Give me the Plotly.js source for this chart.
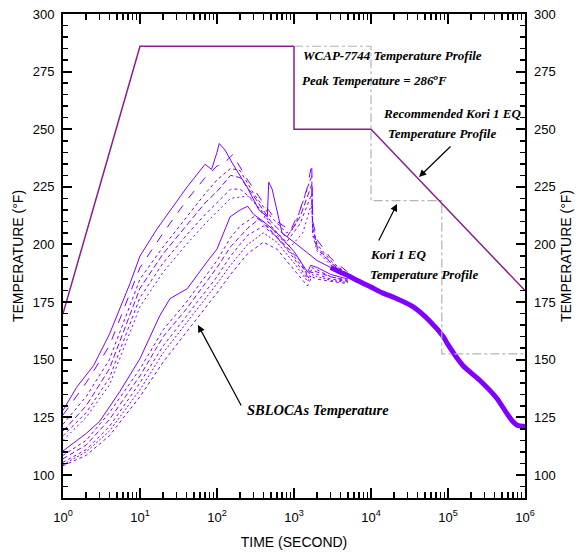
<!DOCTYPE html>
<html><head><meta charset="utf-8">
<script src="https://cdn.plot.ly/plotly-3.0.1.min.js"></script>
<style>html,body{margin:0;padding:0;background:#fff}</style>
</head><body><div id="chart" style="width:579px;height:560px"></div>
<script>
// ---- profile data ----
const wcapT = [1, 10, 1000];
const wcapY = [170, 286, 286];
const recT = [1000, 1000, 10000, 1000000];
const recY = [286, 250, 250, 180];
const koriT = [1000, 10000, 10000, 83000, 83000, 1000000];
const koriY = [286, 286, 219, 219, 152.5, 152.5];

// ---- SBLOCA curves (time s, temperature F) ----
const u1t = [1, 1.5, 2.5, 4, 7.4, 10, 16.6, 25, 41, 70, 85, 100, 107, 127, 160, 245, 350, 450, 470, 520, 600, 700, 1000, 1400, 1700, 2000, 3000, 5000];
const u1y = [128, 138, 147.5, 161, 183, 195, 206.7, 215, 225, 234.8, 232.6, 240, 243.8, 241, 235, 225, 215, 212, 227, 224, 215, 205, 201, 197, 195, 193, 190, 187];
const u2t = [1, 2, 4, 10, 20, 40, 70, 100, 130, 160, 250, 400, 600, 900, 1200, 1500, 1700, 1750, 2000, 3000, 5000];
const u2y = [126, 140, 156, 190, 205, 219, 229, 234, 236, 239, 228, 218, 210, 206, 215, 225, 235, 210, 202, 194, 188];
const u3t = [1, 2, 4, 10, 20, 40, 70, 100, 150, 200, 300, 500, 800, 1000, 1300, 1700, 1750, 2000, 3000, 5000];
const u3y = [122, 134, 150, 185, 199, 212, 222, 228, 233, 232, 222, 212, 205, 207, 218, 230, 208, 200, 193, 187];
const u4t = [1, 2, 4, 10, 20, 40, 70, 100, 150, 200, 300, 500, 800, 1200, 1700, 1750, 2000, 3000, 5000];
const u4y = [119, 130, 146, 181, 196, 208, 218, 223, 230, 229, 221, 210, 203, 212, 226, 207, 199, 192, 186.5];
const u5t = [1, 2, 4, 10, 20, 40, 70, 100, 150, 200, 300, 500, 800, 1200, 1700, 1750, 2000, 3000, 5000];
const u5y = [117, 127, 142, 177, 192, 204, 213, 218, 224, 224, 219, 208, 201, 209, 222, 205, 198, 192, 187];
const u6t = [1, 2, 4, 10, 20, 40, 70, 100, 150, 250, 400, 600, 900, 1300, 1700, 1750, 2000, 3000, 5000];
const u6y = [115, 125, 139, 173, 188, 200, 209, 214, 220, 221, 214, 204, 199, 205, 218, 204, 197, 191, 186.5];
const l1t = [1, 2, 3, 5.5, 10, 18, 24.5, 41, 74, 100, 148, 200, 250, 300, 400, 600, 1000, 1500, 1650, 2000, 3000, 5000];
const l1y = [110.4, 118, 123.3, 136.3, 150.5, 169, 176.5, 180.8, 192.4, 198, 212, 215, 216.6, 213, 210, 205, 197, 188, 191, 190, 187, 185];
const l2t = [1, 2, 4, 10, 20, 40, 70, 100, 150, 200, 300, 400, 600, 1000, 1500, 1700, 2000, 3000, 5000];
const l2y = [108.5, 115, 127, 146, 163, 175, 186, 193, 203, 208, 212, 210, 203, 195, 187, 190, 189, 186, 184.5];
const l3t = [1, 2, 4, 10, 20, 40, 70, 100, 150, 250, 350, 500, 800, 1200, 1500, 1700, 2000, 3000, 5000];
const l3y = [107, 113, 124, 143, 160, 172, 183, 190, 199, 207, 211, 206, 199, 193, 186, 189, 188, 186, 184];
const l4t = [1, 2, 4, 10, 20, 40, 70, 100, 150, 250, 400, 600, 1000, 1500, 1700, 2000, 3000, 5000];
const l4y = [105.5, 111, 121, 140, 156, 169, 179, 186, 195, 204, 208, 203, 194, 185, 188, 187, 185, 184];
const l5t = [1, 2, 4, 10, 20, 40, 70, 100, 150, 250, 400, 600, 1000, 1500, 1700, 2000, 3000, 5000];
const l5y = [104.5, 110, 119, 137, 153, 166, 176, 183, 191, 200, 205, 201, 192, 184, 187, 186, 184.5, 183.5];
const l6t = [1, 2, 4, 10, 20, 40, 70, 100, 150, 250, 400, 600, 1000, 1500, 1700, 2000, 3000, 5000];
const l6y = [104, 108.5, 117, 134, 149, 162, 172, 179, 187, 196, 201, 198, 189, 182, 186, 185, 184, 183];
// merged late-time band
const tailT = [3000, 4000, 5000, 7000, 10000, 14000, 20000, 35000, 59000, 87000, 100000, 156000, 260000, 430000, 600000, 690000, 800000, 1000000];
const tailY = [190, 188, 186.5, 184, 181.5, 179, 177, 173, 166.5, 160, 156.5, 147.5, 141, 133.3, 126, 123.3, 121.5, 121];

// ---- ticks ----
const xTickVals = [1, 10, 100, 1000, 10000, 100000, 1000000];
const xTickText = ['10<sup>0</sup>', '10<sup>1</sup>', '10<sup>2</sup>', '10<sup>3</sup>', '10<sup>4</sup>', '10<sup>5</sup>', '10<sup>6</sup>'];
const yTickVals = [100, 125, 150, 175, 200, 225, 250, 275, 300];

const xMinor = [];
for (let d = 0; d < 6; d++) for (let k = 2; k <= 9; k++) xMinor.push(k * Math.pow(10, d));
const yMinor = [];
for (let v = 90; v <= 300; v += 5) if (v % 25 !== 0) yMinor.push(v);

const SB = '#8000ff';
const PR = '#8a1e8a';
const curves = [
  [u1t, u1y, 'solid'], [u2t, u2y, 'dash'], [u3t, u3y, 'dot'], [u4t, u4y, '6px,3px'],
  [u5t, u5y, 'dot'], [u6t, u6y, '2px,3px'],
  [l1t, l1y, 'solid'], [l2t, l2y, 'dot'], [l3t, l3y, '5px,3px'], [l4t, l4y, 'dot'],
  [l5t, l5y, '2px,2px'], [l6t, l6y, 'dot']
];

const traces = [];
curves.forEach(c => traces.push({x: c[0], y: c[1], mode: 'lines', line: {color: SB, width: 1, dash: c[2]}, hoverinfo: 'skip'}));
traces.push({x: tailT, y: tailY, mode: 'lines', line: {color: SB, width: 5, shape: 'spline', smoothing: 0.6}, hoverinfo: 'skip'});
traces.push({x: koriT, y: koriY, mode: 'lines', line: {color: '#b4b4b4', width: 1.2, dash: 'dashdot'}, hoverinfo: 'skip'});
traces.push({x: wcapT, y: wcapY, mode: 'lines', line: {color: PR, width: 1.5}, hoverinfo: 'skip'});
traces.push({x: recT, y: recY, mode: 'lines', line: {color: PR, width: 1.5}, hoverinfo: 'skip'});
// invisible anchors so the helper axes are drawn
const ghost = {x: [1, 1000000], y: [95, 95], mode: 'lines', line: {width: 0}, opacity: 0, hoverinfo: 'skip'};
traces.push(Object.assign({}, ghost, {xaxis: 'x', yaxis: 'y2'}));
traces.push(Object.assign({}, ghost, {xaxis: 'x3', yaxis: 'y'}));
traces.push(Object.assign({}, ghost, {xaxis: 'x4', yaxis: 'y'}));
traces.push(Object.assign({}, ghost, {xaxis: 'x', yaxis: 'y3'}));
traces.push(Object.assign({}, ghost, {xaxis: 'x', yaxis: 'y4'}));

const L = 63, R = 525, T = 14, B = 498;
const px = x => (x - L) / (R - L);
const py = y => (B - y) / (B - T);
const tf = {family: 'Liberation Serif, Times New Roman, serif', size: 13, color: '#000'};
function lab(text, x, y, size) {
  return {text: '<b><i>' + text + '</i></b>', xref: 'paper', yref: 'paper', x: px(x), y: py(y), xanchor: 'left', yanchor: 'middle', showarrow: false, font: Object.assign({}, tf, size ? {size: size} : {})};
}
function arr(tx, ty, sx, sy) {
  return {text: '', xref: 'paper', yref: 'paper', x: px(tx), y: py(ty), ax: sx - tx, ay: sy - ty, showarrow: true, arrowhead: 2, arrowsize: 1.2, arrowwidth: 1.2, arrowcolor: '#000', standoff: 0};
}

const axFont = {family: 'Liberation Sans, Arial, sans-serif', size: 13, color: '#000'};
const titleFont = {family: 'Liberation Sans, Arial, sans-serif', size: 14, color: '#000'};
const minorX = side => ({overlaying: 'x', anchor: 'y', side: side, type: 'log', range: [0, 6], tickmode: 'array', tickvals: xMinor,
  ticks: 'inside', ticklen: 6, tickwidth: 1.5, tickcolor: '#000', showticklabels: false, showline: false, showgrid: false, zeroline: false});
const minorY = side => ({overlaying: 'y', anchor: 'x', side: side, range: [90, 300], tickmode: 'array', tickvals: yMinor,
  ticks: 'inside', ticklen: 5, tickwidth: 1.5, tickcolor: '#000', showticklabels: false, showline: false, showgrid: false, zeroline: false});

const layout = {
  width: 579, height: 560,
  margin: {l: L, r: 579 - R, t: T, b: 560 - B},
  paper_bgcolor: '#fff', plot_bgcolor: '#fff',
  showlegend: false,
  xaxis: {
    type: 'log', range: [0, 6], tickmode: 'array', tickvals: xTickVals, ticktext: xTickText,
    ticks: 'inside', ticklen: 10, tickwidth: 2, tickcolor: '#000',
    showline: true, linewidth: 2, linecolor: '#000', mirror: 'ticks', showgrid: false, zeroline: false,
    tickfont: axFont, ticklabelstandoff: 6,
    title: {text: 'TIME (SECOND)', font: titleFont, standoff: 14}
  },
  xaxis3: minorX('bottom'),
  xaxis4: minorX('top'),
  yaxis: {
    range: [90, 300], tickmode: 'array', tickvals: yTickVals,
    ticks: 'inside', ticklen: 9, tickwidth: 2, tickcolor: '#000',
    showline: true, linewidth: 2, linecolor: '#000', mirror: 'ticks', showgrid: false, zeroline: false,
    tickfont: axFont, ticklabelstandoff: 4,
    title: {text: 'TEMPERATURE (°F)', font: titleFont, standoff: 6}
  },
  yaxis2: {
    overlaying: 'y', side: 'right', anchor: 'x', range: [90, 300], tickmode: 'array', tickvals: yTickVals,
    ticks: '', showline: false, showgrid: false, zeroline: false, tickfont: axFont, ticklabelstandoff: 8,
    title: {text: 'TEMPERATURE (°F)', font: titleFont, standoff: 6}
  },
  yaxis3: minorY('left'),
  yaxis4: minorY('right'),
  annotations: [
    lab('WCAP-7744 Temperature Profile', 301, 55),
    lab('Peak Temperature = 286<sup>o</sup>F', 300, 80),
    lab('Recommended Kori 1 EQ', 381, 113),
    lab('Temperature Profile', 386, 133),
    lab('Kori 1 EQ', 368, 255),
    lab('Temperature Profile', 368, 274),
    lab('SBLOCAs Temperature', 245, 410, 14.5),
    arr(419, 177, 452, 145),
    arr(397, 204, 378, 242),
    arr(198, 325, 242, 407)
  ]
};
Plotly.newPlot('chart', traces, layout, {displayModeBar: false, staticPlot: true});
</script></body></html>
